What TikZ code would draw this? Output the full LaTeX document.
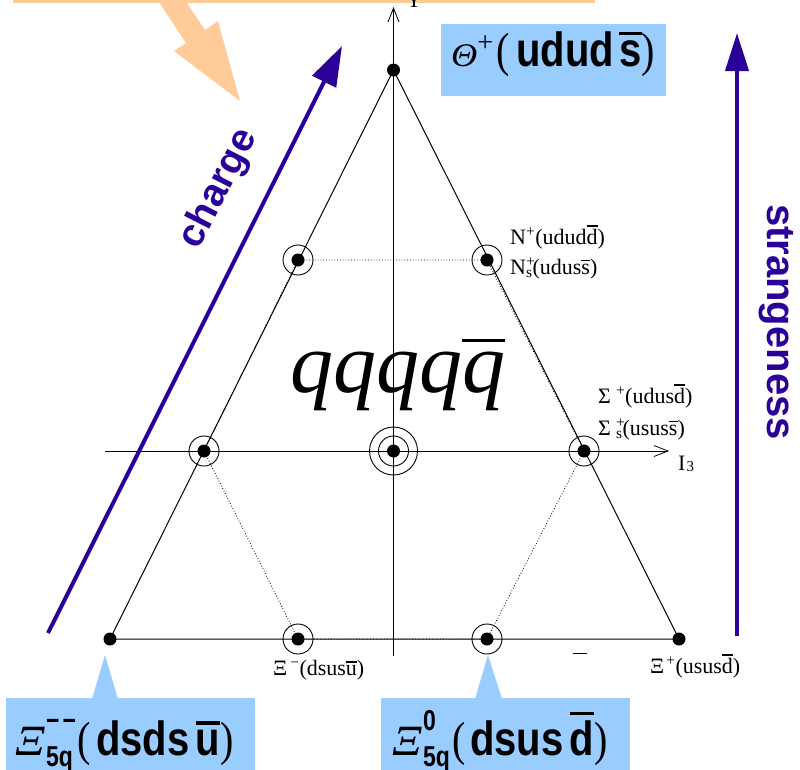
\documentclass[tikz,border=0pt]{standalone}
\usepackage{fontspec}
\setmainfont{Liberation Serif}
\newfontfamily\hv{Liberation Sans}
\usetikzlibrary{arrows.meta}
\definecolor{lblue}{HTML}{99CCFF}
\definecolor{orng}{HTML}{FFCC99}
\definecolor{dblue}{HTML}{2B0099}
\newcommand\obar[2][0.1em]{\vbox{\hrule height 0.075em\kern#1\hbox{#2}}}
\newcommand\bigxi[2]{%
  \scalebox{1.3}[1.2]{\itshape Ξ}\kern1pt
  \rlap{\raisebox{25pt}{\scalebox{1}[1.25]{\fontsize{23}{24}\selectfont\hv\bfseries #1}}}%
  \raisebox{-11pt}{\scalebox{1}[1.25]{\fontsize{23}{24}\selectfont\hv\bfseries #2}}}
\begin{document}
\begin{tikzpicture}[x=1pt,y=-1pt,
  dot/.style={circle,fill=black,inner sep=0pt,minimum size=13pt},
  ring/.style={line width=0.9pt},
  grid/.style={line width=1pt},
  lab/.style={font=\fontsize{22}{24}\selectfont,inner sep=0pt,anchor=base west},
  bigbox/.style={fill=lblue,inner sep=0pt},
  txt/.style={inner sep=0pt,anchor=base west},
  axarrow/.style={-{Straight Barb[length=14pt,width=11pt,line width=0.8pt]}},
  blue arrow/.style={dblue,line width=4pt}]
\useasboundingbox (0,0) rectangle (800,769);
\clip (0,0) rectangle (800,769);

% orange box and arrow
\node[fill=orng,inner sep=0pt,minimum width=582pt,minimum height=40pt,anchor=south west] (ob) at (13,3) {};
\fill[orng] (151,-10) -- (186,43) -- (174,51) -- (240,101) -- (218,21) -- (205,30) -- (178,-10) -- cycle;

% axes
\coordinate (ytop) at (393.5,7);
\coordinate (ybot) at (393.5,656);
\coordinate (xlft) at (105,451);
\coordinate (xrgt) at (669,451);
\draw[grid,axarrow] (ybot) -- (ytop);
\draw[grid,axarrow] (xlft) -- (xrgt);
\node[lab] (ylab) at (406,7) {Y};

% points
\node[dot] (t)  at (393.5,70) {};
\node[dot] (n1) at (298,260) {};
\node[dot] (n2) at (487,260) {};
\node[dot] (s1) at (204,451) {};
\node[dot] (c)  at (393.5,451) {};
\node[dot] (s2) at (584,451) {};
\node[dot] (x1) at (298,639) {};
\node[dot] (x2) at (487,639) {};
\node[dot] (bl) at (110,639) {};
\node[dot] (br) at (679,639) {};

\draw[grid] (t.center) -- (bl.center) -- (br.center) -- cycle;
\draw[dotted,line width=0.8pt] (n1.center) -- (n2.center) -- (s2.center) -- (x2.center) -- (x1.center) -- (s1.center) -- cycle;

\foreach \p in {n1,n2,s1,s2,x1,x2} \draw[ring] (\p.center) circle (15pt);
\draw[ring] (c.center) circle (15pt);
\draw[ring] (c.center) circle (24pt);

% labels
\node[lab] (ln1) at (510,244) {N\textsuperscript{+}(udud\obar{d})};
\node[lab] (ln2) at (510,274) {N\rlap{\textsuperscript{+}}\textsubscript{s}(udus\obar{s})};
\node[lab] (ls1) at (598,403) {Σ\kern5pt\textsuperscript{+}(udus\obar{d})};
\node[lab] (ls2) at (598,435) {Σ\kern5pt\rlap{\textsuperscript{+}}\textsubscript{s}(usus\obar{s})};
\node[lab] (lx1) at (273,675) {Ξ\kern3pt\textsuperscript{−}(dsus\obar{u})};
\node[lab] (lx2) at (650,673) {Ξ\kern2pt\textsuperscript{+}(usus\obar{d})};
\node[lab] (li3) at (678,470) {I\kern1pt\raisebox{-1pt}{\fontsize{15}{16}\selectfont 3}};
\coordinate (sb1) at (573,653);
\coordinate (sb2) at (587,653);
\draw[line width=0.8pt] (sb1) -- (sb2);

% central text
\node[txt,font=\fontsize{86}{90}\selectfont\itshape] (qq) at (290,392) {qqqq\vbox{\hrule height 3pt\kern9pt\hbox{q}}};

% blue arrows
\coordinate (cs) at (48,633);
\coordinate (ce) at (342,46);
\draw[blue arrow,-{Triangle[length=40pt,width=26pt]}] (cs) -- (ce);
\coordinate (ss) at (737,636);
\coordinate (se) at (737,33);
\draw[blue arrow,-{Triangle[length=38pt,width=23pt]}] (ss) -- (se);
\node[font=\fontsize{39}{40}\selectfont\hv\bfseries,text=dblue,rotate=63,inner sep=0pt] (chg) at (219,189) {charge};
\node[font=\fontsize{40}{42}\selectfont\hv\bfseries,text=dblue,rotate=-90,inner sep=0pt] (str) at (776,322) {strangeness};

% Theta box
\node[bigbox,minimum width=225pt,minimum height=72pt] (thb) at (553.5,60) {};
\node[txt] (tht) at (451,66) {\fontsize{33}{34}\selectfont\scalebox{1.1}[1]{\itshape Θ}\raisebox{15pt}{\fontsize{28}{30}\selectfont +}\kern3pt\fontsize{40}{42}\selectfont\scalebox{1}[1.2]{(\kern7pt{\hv\bfseries udud\kern5pt\obar{s}})}};

% bottom boxes
\node[bigbox,minimum width=249pt,minimum height=90pt,anchor=north west] (bxl) at (6,698) {};
\node[bigbox,minimum width=249pt,minimum height=90pt,anchor=north west] (bxm) at (381,698) {};
\coordinate (pl) at (105,655);
\fill[lblue] (pl) -- (92,699) -- (118,699) -- cycle;
\coordinate (pm) at (488,655);
\fill[lblue] (pm) -- (475,699) -- (502,699) -- cycle;
\node[txt] (tl) at (15,755) {\fontsize{36}{38}\selectfont\bigxi{−\kern3pt−}{5q}\kern5pt\fontsize{40}{42}\selectfont\scalebox{1}[1.2]{(\kern5pt{\hv\bfseries dsds\kern6pt\obar{u}})}};
\node[txt] (tm) at (392,755) {\fontsize{36}{38}\selectfont\bigxi{0}{5q}\kern3pt\fontsize{40}{42}\selectfont\scalebox{1}[1.2]{(\kern4pt{\hv\bfseries dsus\kern6pt\obar{d}})}};
\end{tikzpicture}
\end{document}
